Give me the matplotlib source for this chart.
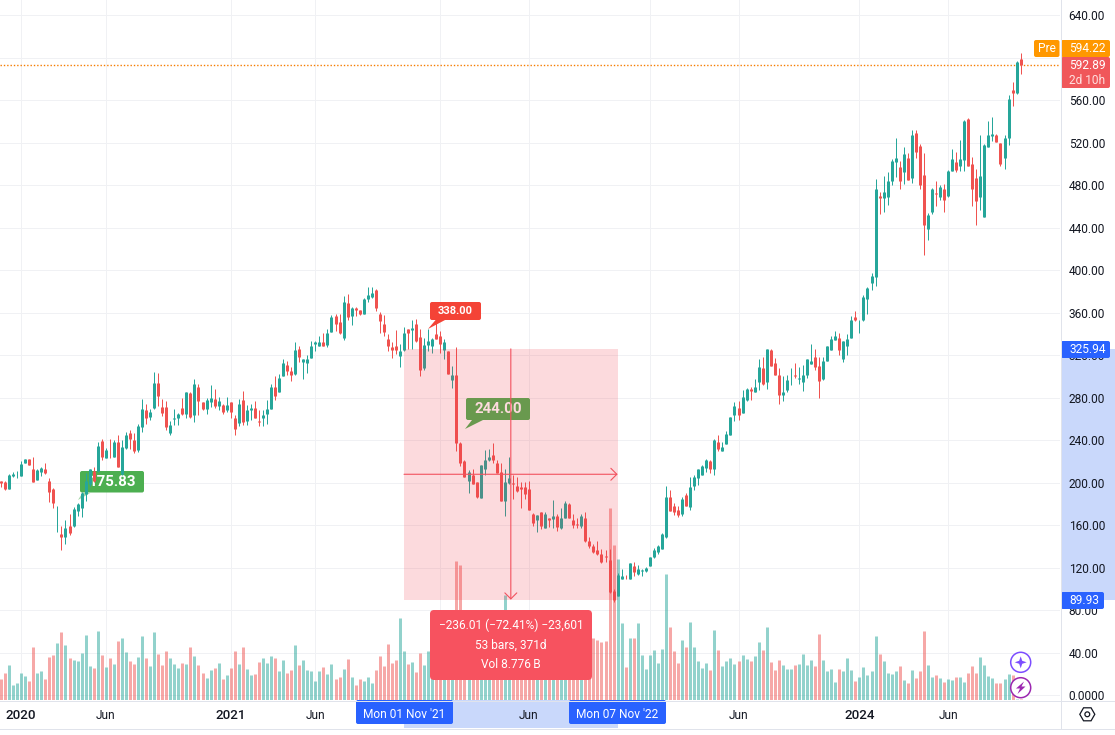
import numpy as np
import matplotlib
matplotlib.use("Agg")
import matplotlib.pyplot as plt
from matplotlib.patches import FancyBboxPatch, Polygon, Rectangle, Circle, RegularPolygon

# weekly candles
opens = [202,201,194,206,209,206,219,222,213,203,
    210.5,213,202,194.5,169.3,152,149,159.5,159.5,173,
    176.5,189.5,199,211,211,239.5,223.5,229,224.5,238.5,
    208.5,233,247,240.5,231,252,268,262,270.5,294,
    271.5,271.5,247,259.5,261,270.5,265,284,264,290.5,
    275.5,269.5,275.5,279,272.5,273.5,268,275.5,260.5,256.5,
    278,258.5,268,270.5,258.5,260.5,265,269,290.5,285,
    300,311,305.5,302.5,326,314,313,317.5,331,329,
    332,330,342,357,351.5,336.5,369.5,357,364,363,
    359,372.5,375,381.5,359,349.5,335.5,328,329,319.5,
    325,345,344,349.5,337.5,307.5,330,329,339.5,338.5,
    324.5,323.5,297,301,237.5,220,202,207.5,201,186,
    213,221.5,226.5,219,210.5,183,200,200,197,195.5,
    195.5,194.5,171,165,172,157.5,167,166,169,157,
    167,179.5,165,161,159.5,167,145.5,140,137,133,
    131,127.5,98.5,93.5,109.5,111.5,109.5,122,114.5,116.5,
    116.5,122,130.5,135,138,148.5,187,178.5,174.5,171,
    188,177.5,197,204,207.5,214,220,213,238.5,230,
    236,244.5,264,270.5,266,278,288.5,285.5,295,307.5,
    295,324.5,313,301,283,287.5,297.5,301.5,298,295,
    301.5,312,318.5,310,298,315,325,334.5,336.5,316.5,
    329,336.5,355.5,352,353.5,373,387.5,394,470,467.5,
    469,483.5,502,497.5,492,506,487,529.5,517,490,
    439,455,473,469,476.5,470,493.5,502,498.5,504,
    542.5,499.5,487,469,450.5,516,526.5,527.5,520,506,
    524,570,567,599]
closes = [200,194,207,208.5,209.5,218,222,217,201,212,
    214,209.5,191.5,180.5,170,149,157,153,175.5,179.5,
    190,202,212.5,201.5,235,224.5,231,228.5,238.5,215,
    234,245,241.5,230,253.5,269,260.5,267,294,282,
    266,252,254.5,260.5,265,265,285,262,293,276.5,
    269,278,280,272.5,276.5,267,273.5,267,251,274.5,
    257.5,268,270.5,261,257.5,264,269,290.5,282,299,
    313,305.5,301,325,318.5,316,316.5,329,332,332,
    329,341,355.5,349.5,340.5,370.5,355.5,364,363,359,
    373,377,379,364,352.5,342,329,324.5,324.5,323.5,
    341,340.5,346,333,306.5,330,333.5,335.5,335.5,331,
    332,302.5,301.5,237,219,205.5,210.5,199,187,217,
    221.5,224.5,221.5,209.5,183,201,204,199,192.5,194.5,
    189.5,174.5,162.5,170,159.5,171,164.5,169,158.5,167,
    180.5,167,160.5,160,169,145.5,140,135,132.5,125.5,
    130,97.5,90,113.5,112.5,111,124,115.5,119,118,
    120,130.5,137,140,152,187,173.5,172,170,185,
    178.5,195.5,205.5,212.5,216,221.5,212.5,240.5,232,234,
    246,262,272.5,264,281,288.5,286.5,290.5,309,293,
    326,310,301,283,285.5,297,298,300,299,301,
    316,315,308.5,296,315,329,335.5,338.5,324.5,333,
    335.5,353.5,353.5,352.5,375,383.5,395,476,467.5,474,
    484,503,506,483.5,509.5,485,527.5,511.5,480.5,443,
    452,476.5,472,478.5,466.5,493.5,505,494.5,505,540.5,
    498.5,476,465.5,489,518,527.5,528.5,521,499.5,524.5,
    561.5,567,596,592.89]
highs = [202,202,208,210,211,220,222.5,222.5,224.5,213,
    215,219,204,195,178.5,159.5,164.5,171,177.5,180.5,
    191.5,209.5,213,215,238,241.5,233,241.5,240.5,245,
    240.5,248,250,247,255.5,279,274.5,269,304.5,303.5,
    279,277,258.5,269,266,280,285.5,285.5,298,293,
    276,280,292,288.5,281,274.5,281,275.5,264,279,
    286.5,273.5,274.5,277,268,268,278,293,300,302.5,
    316,315,308.5,332,329,316.5,320.5,333.5,333.5,338.5,
    340.5,345,358,359,359,376,378,365.5,365.5,363,
    374,384.5,384.5,382,361,358,339.5,332,344,331,
    347,345,353.5,354.5,345,336.5,345,336.5,353.5,343,
    335.5,324,310,328,238.5,221,211.5,213,201,217,
    231,232,237,221,219,212.5,224.5,207.5,205.5,201,
    201,202,171.5,170,172,172,167,184,171,176.5,
    183,181,171,167,171,172,149,142.5,145.5,138,
    137,138,99.5,115,119,113.5,124,125,123,119,
    121,130.5,139,141,153,197,193.5,181,178.5,187,
    190.5,205.5,207.5,212.5,217,222.5,221,241.5,245,238.5,
    249,262,275.5,276.5,287.5,289.5,290.5,298,316.5,318.5,
    326,326,317.5,307.5,300,301.5,307.5,313,308.5,311,
    316.5,331,326,318.5,318.5,329,338.5,343,340.5,333.5,
    339.5,357,362,353.5,377,384.5,397,486,474,489,
    492.5,505,524,503,515.5,510.5,531.5,532,519,510.5,
    454,477.5,483.5,480.5,481.5,494,514.5,511.5,523,541.5,
    543.5,507,495.5,527.5,519,540,544.5,528.5,520,527.5,
    565,577.5,597,604]
lows = [196,193,194,205,204,206,219,216.5,201,203,
    206.5,208.5,182,176.5,154,137,142.5,151,158.5,169,
    168,183,196.5,201,210,221.5,223.5,223.5,224.5,215,
    207.5,232,232,227.5,229,248,255.5,259,269,272.5,
    263,250,244.5,254.5,254.5,264,260.5,260.5,257.5,264,
    268.5,265,271.5,270.5,268,265,267,260.5,245,253,
    254.5,254.5,259,260.5,253.5,253.5,255.5,269,278,285,
    300,301.5,296,301.5,314,298,303.5,317.5,323.5,329,
    329,328,342,343,339.5,334.5,353.5,348,357,358,
    359,370.5,374,362,341,338.5,323.5,317.5,321.5,308.5,
    323.5,326,326,332,300,306.5,323.5,322.5,335.5,322.5,
    316,302,289.5,230,216,205.5,190.5,199,186,186,
    207.5,220,219,209.5,183,169,199,185,191.5,176.5,
    185,174.5,159.5,154,156,157,158.5,157.5,155,156,
    167,167,157.5,157,157,144.5,139,134,132,124,
    125.5,96.5,88,93,109.5,109,109,112.5,113.5,112.5,
    115.5,122,129.5,132.5,138,147.5,173.5,170,168,169,
    178.5,174.5,193.5,198,207.5,210.5,209.5,207.5,230,230,
    236,244.5,258.5,259,266,276.5,278,285,287.5,291.5,
    288.5,310,301,274.5,276.5,285.5,292,299,293,286.5,
    299,312,306.5,280,297,315,325,334.5,320.5,314,
    320.5,336.5,352.5,340.5,352.5,359,381.5,385.5,453,455,
    461.5,480.5,488,476.5,481.5,485,482.5,506,476,414.5,
    428,453,460.5,466.5,455,469,493.5,492.5,493.5,493.5,
    498.5,460,443,457,450.5,516,522,521,498.5,495.5,
    518,555,566,585]
# volume pane, in its own unscaled units
volumes = [21,27,35,15,17,27,24,19,53,27,
    29,21,43,45,57,68,55,42,40,39,
    47,65,34,32,69,45,33,42,36,59,
    62,48,39,36,43,64,42,34,68,46,
    35,49,42,36,32,37,36,53,44,35,
    27,22,30,32,37,21,25,32,49,36,
    53,31,25,26,38,42,37,44,42,29,
    40,27,30,55,35,40,30,29,19,29,
    33,26,36,21,23,31,41,23,15,21,
    19,23,17,30,44,34,56,37,40,82,
    49,36,38,28,47,35,49,60,70,55,
    62,68,58,139,135,72,64,70,80,82,
    60,52,48,60,80,105,66,55,50,52,
    48,72,60,52,58,50,42,45,52,48,
    52,50,45,40,42,60,55,62,60,58,
    59,192,155,141,77,33,62,62,77,45,
    31,45,50,37,51,126,73,49,37,60,
    53,78,53,39,32,37,30,70,50,34,
    39,42,36,39,45,41,39,44,58,50,
    73,38,30,40,35,31,31,35,36,46,
    35,40,34,66,40,29,31,18,31,29,
    42,30,19,23,33,25,29,64,46,39,
    27,26,29,34,20,17,30,22,29,69,
    35,23,25,22,18,21,20,23,23,18,
    27,34,27,43,35,24,22,17,17,21,
    26,25,1,1]

# 2022 and 2023 sit under the date tags, 600.00 under the price tags
time_ticks = [5, 26, 57, 78, 109, 131, 161, 183, 213, 235]
time_labels = ["2020", "Jun", "2021", "Jun", "", "Jun", "", "Jun", "2024", "Jun"]
price_ticks = list(range(0, 680, 40))
hidden_prices = [600]
last_price = 592.89
pre_price = 594.22
range_top = 325.94
range_bottom = 89.93
range_start = 100
range_end = 153

GREEN = "#26a69a"
RED = "#ef5350"
INK = "#131722"
GRID = "#f0f1f4"
LINE = "#e0e3eb"
BLUE = "#2962ff"
PX = 0.718  # just under one pixel in points, so agg snaps the strokes to whole pixels

plt.rcParams["font.family"] = ["Roboto", "DejaVu Sans"]

W, H = 1115, 735
fig = plt.figure(figsize=(W / 100, H / 100), dpi=100)

# pixel canvases behind and in front of the chart, for the widget furniture
back = fig.add_axes([0, 0, 1, 1], zorder=0)
top = fig.add_axes([0, 0, 1, 1], zorder=5)
for a in (back, top):
    a.set_xlim(0, W)
    a.set_ylim(H, 0)
    a.axis("off")
top.patch.set_alpha(0)

pane = [0, 1 - 700 / H, 1060 / W, 700 / H]
ax_vol = fig.add_axes(pane, zorder=1)
ax = fig.add_axes(pane, zorder=2)
ax.patch.set_alpha(0)


def box(target, x0, y0, x1, y1, color, r=2, **kw):
    p = FancyBboxPatch((x0 + r, y0 + r), x1 - x0 - 2 * r, y1 - y0 - 2 * r,
                       boxstyle=f"round,pad={r},rounding_size={r}",
                       facecolor=color, edgecolor="none", **kw)
    target.add_patch(p)
    return p


x = np.arange(len(closes))
o, h, l, c = map(np.array, (opens, highs, lows, closes))
colors = np.where(c >= o, GREEN, RED)

price_limits = ((695.2 - 700) / 1.0625, 695.2 / 1.0625)
x_limits = (-0.25, 262.77)

# Grid and volume live in the lower axes
ax_vol.vlines(x, 0, volumes, colors=colors, alpha=0.5, linewidth=3 * PX, capstyle="butt", zorder=1)
for t in time_ticks:
    ax_vol.axvline(t, color=GRID, lw=PX, zorder=0)
for p in price_ticks:
    ax_vol.axhline(700 - (695.2 - p * 1.0625), color=GRID, lw=PX, zorder=0)
ax_vol.set_ylim(0, 700)
ax_vol.set_xlim(x_limits)
ax_vol.set_xticks([])
ax_vol.set_yticks([])
for s in ax_vol.spines.values():
    s.set_visible(False)

# Text labels sit under the candles
box(ax, 80, 471, 144, 492.5, "#4caf50", zorder=1, transform=top.transData)
ax.add_patch(Polygon([(83, 492), (92, 492), (78, 500)], closed=True, fc="#a5d6a7", ec="none",
                     zorder=1, transform=top.transData))
ax.text(112, 481.5, "175.83", color="white", fontsize=10.8, fontweight="bold", ha="center", va="center",
        zorder=1.1, transform=top.transData)
box(ax, 466, 398, 530, 420, "#4caf50", zorder=1, transform=top.transData)
ax.add_patch(Polygon([(472, 420), (483, 420), (465, 429)], closed=True, fc="#4caf50", ec="none",
                     zorder=1, transform=top.transData))
ax.text(498, 409, "244.00", color="white", fontsize=10.8, fontweight="bold", ha="center", va="center",
        zorder=1.1, transform=top.transData)

ax.axhline(last_price, color="#f57c00", lw=1.0, linestyle=(0, (1, 1.4)), zorder=1.5)

# Candles
ax.vlines(x, l, h, colors=colors, linewidth=PX, capstyle="butt", zorder=2)
ax.vlines(x, np.minimum(o, c), np.maximum(o, c), colors=colors, linewidth=3 * PX, capstyle="butt", zorder=2.1)

# Measured range on top of the candles
ax.add_patch(Rectangle((range_start, range_bottom), range_end - range_start, range_top - range_bottom,
                       facecolor="#f23645", edgecolor="none", alpha=0.18, zorder=3))
mid_x = (range_start + range_end) / 2
mid_y = (range_top + range_bottom) / 2
head = "->,head_length=0.43,head_width=0.43"
ax.annotate("", xy=(range_end, mid_y), xytext=(range_start, mid_y), zorder=4,
            arrowprops=dict(arrowstyle=head, color="#f2515e", lw=0.8, shrinkA=0, shrinkB=0))
ax.annotate("", xy=(mid_x, range_bottom), xytext=(mid_x, range_top), zorder=4,
            arrowprops=dict(arrowstyle=head, color="#f2515e", lw=0.8, shrinkA=0, shrinkB=0))

# Price scale and time scale
ax.set_xlim(x_limits)
ax.set_ylim(price_limits)
ax.yaxis.tick_right()
shown_prices = [p for p in price_ticks if p not in hidden_prices]
ax.set_yticks(shown_prices)
ax.set_yticklabels(["0.0000" if p == 0 else f"{p:.2f}" for p in shown_prices], ha="left")
ax.tick_params(axis="y", length=0, pad=6.2, labelsize=8.6, labelcolor=INK)
ax.set_xticks(time_ticks)
ax.set_xticklabels(time_labels)
ax.tick_params(axis="x", length=0, pad=6.8, labelsize=8.6, labelcolor=INK)
for lab, txt in zip(ax.get_xticklabels(), time_labels):
    if txt != "Jun":
        lab.set_fontsize(9.6)
        lab.set_fontweight("medium")
for s in ax.spines.values():
    s.set_visible(False)

# Highlight bands behind the scales
back.add_patch(Rectangle((1061, 349), 54, 251, fc="#c9d8fb", ec="none"))
back.add_patch(Rectangle((404, 700), 214, 28, fc="#c9d8fb", ec="none"))

# Frame lines
top.plot([0, W], [700.5, 700.5], color=LINE, lw=PX)
top.plot([0, W], [728.5, 728.5], color=LINE, lw=PX)
top.plot([1060.5, 1060.5], [0, 728], color=LINE, lw=PX)

# Price tags
box(top, 1034, 40, 1059.5, 57, "#ff9800")
top.text(1047, 48.5, "Pre", color="white", fontsize=8.6, ha="center", va="center")
box(top, 1061, 40, 1110, 57, "#ff9800")
top.text(1069, 48.5, f"{pre_price:.2f}", color="white", fontsize=8.6, va="center")
box(top, 1061, 57, 1110, 88, "#f0575a")
top.text(1069, 65.5, f"{last_price:.2f}", color="white", fontsize=8.6, va="center")
top.text(1069, 80, "2d 10h", color="#ffe0df", fontsize=8.6, va="center")
box(top, 1061, 341, 1110, 358, BLUE)
top.text(1069, 349.5, f"{range_top:.2f}", color="white", fontsize=8.6, va="center")
box(top, 1061, 592, 1104, 609, BLUE)
top.text(1069, 600.5, f"{range_bottom:.2f}", color="white", fontsize=8.6, va="center")

# High marker
box(top, 430, 302, 481, 320, "#f44336")
top.add_patch(Polygon([(436, 319.5), (446, 319.5), (428, 329)], closed=True, fc="#f44336", ec="none"))
top.text(455.5, 311, "338.00", color="white", fontsize=8, fontweight="bold", ha="center", va="center")

# Range readout
box(top, 430, 610, 592, 680, "#f7525f", r=4)
top.text(511, 625, "\u2212236.01 (\u221272.41%) \u221223,601", color="white", fontsize=8.6, ha="center", va="center")
top.text(511, 645, "53 bars, 371d", color="white", fontsize=8.6, ha="center", va="center")
top.text(511, 664, "Vol 8.776\u2009B", color="white", fontsize=8.6, ha="center", va="center")

# Date tags
box(top, 356, 700, 453, 724, BLUE)
top.text(404.5, 714, "Mon 01 Nov '21", color="white", fontsize=8.6, ha="center", va="center")
box(top, 569, 700, 666, 724, BLUE)
top.text(617.5, 714, "Mon 07 Nov '22", color="white", fontsize=8.6, ha="center", va="center")

# Round buttons and the settings gear
top.add_patch(Circle((1020.7, 662.3), 10, fc="white", ec="#7c4dff", lw=1.1))
top.add_patch(Polygon([(1020.7, 656.3), (1022.2, 660.8), (1026.7, 662.3), (1022.2, 663.8),
                       (1020.7, 668.3), (1019.2, 663.8), (1014.7, 662.3), (1019.2, 660.8)],
                      closed=True, fc="#7c4dff", ec="none"))
top.add_patch(Circle((1020.7, 687.7), 10, fc="white", ec="#9c27b0", lw=1.1))
top.add_patch(Polygon([(1024, 681.5), (1016, 688.5), (1020, 688.5), (1017.5, 694), (1025.5, 686.5),
                       (1021.5, 686.5)], closed=True, fc="#9c27b0", ec="none"))
top.add_patch(RegularPolygon((1087.3, 714.3), 6, radius=7.5, orientation=np.pi / 2, fc="none", ec=INK, lw=0.9))
top.add_patch(Circle((1087.3, 714.3), 2.4, fc="none", ec=INK, lw=0.9))

fig.savefig("out.png", dpi=100)
